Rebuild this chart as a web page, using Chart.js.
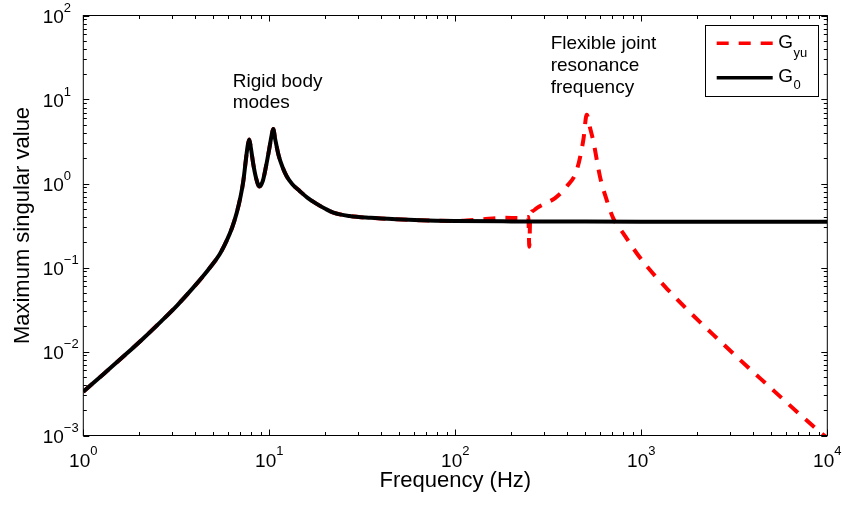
<!DOCTYPE html>
<html>
<head>
<meta charset="utf-8">
<script src="https://cdn.jsdelivr.net/npm/chart.js@4.4.1/dist/chart.umd.min.js"></script>
<style>
  html, body { margin: 0; padding: 0; background: #ffffff; }
  #wrap { width: 842px; height: 505px; position: relative; }
</style>
</head>
<body>
<div id="wrap"><canvas id="chart"></canvas></div>
<script>
(() => {
    'use strict';

    // shared low-frequency part (rigid body modes), both systems agree here
    const rigidFreq = [1, 1.3, 1.71, 2.1, 2.58, 3.2, 3.9, 4.4, 4.8, 5.4, 5.9, 6.3, 6.68, 7.0, 7.25, 7.5, 7.65, 7.8,
        7.95, 8.2, 8.5, 8.85, 9.2, 9.6, 10.0, 10.3, 10.5, 10.75, 11.2, 11.8, 12.4, 13.3, 14.6, 16, 17.8, 20, 22.1,
        27, 35, 48, 65, 100];
    const rigidMag = [0.00332, 0.00552, 0.00944, 0.0143, 0.0221, 0.0355, 0.0575, 0.0785, 0.1, 0.143, 0.209, 0.295,
        0.447, 0.692, 1.07, 2.0, 2.8, 3.35, 2.7, 1.7, 1.15, 0.92, 1.05, 1.6, 2.6, 3.8, 4.45, 3.4, 2.2, 1.55, 1.22,
        0.98, 0.81, 0.68, 0.58, 0.5, 0.45, 0.41, 0.39, 0.375, 0.365, 0.358];

    // G0 above 100 Hz
    const g0HighFreq = [200, 500, 1000, 3000, 10000];
    const g0HighMag = [0.354, 0.352, 0.351, 0.35, 0.35];

    // Gyu above 100 Hz: notch near 250 Hz, flexible joint resonance near 510 Hz
    const gyuHighFreq = [136, 181, 223, 247, 250, 253, 261, 274, 305, 344, 397, 450, 488, 509, 530, 552, 600, 651,
        707, 800, 945, 1114, 1370, 1683, 2069, 2543, 3123, 3841, 4724, 5799, 7129, 9139, 10000];
    const gyuHighMag = [0.372, 0.39, 0.388, 0.40, 0.177, 0.42, 0.47, 0.51, 0.58, 0.67, 0.92, 1.45, 3.3, 6.6, 4.6,
        3.2, 1.2, 0.64, 0.385, 0.255, 0.148, 0.0933, 0.0562, 0.0351, 0.0224, 0.0145, 0.00944, 0.00617, 0.00407,
        0.00269, 0.00178, 0.0011, 0.00093];

    const xDecades = [0, 1, 2, 3, 4];
    const yDecades = [-3, -2, -1, 0, 1, 2];

    const FONT = '"Liberation Sans", Arial, Helvetica, sans-serif';
    const RED = '#ff0000';
    const DASH = [12, 10];

    const toPoints = (xs, ys) => xs.map((x, i) => ({ x, y: ys[i] }));

    const g0Data = toPoints(rigidFreq.concat(g0HighFreq), rigidMag.concat(g0HighMag));
    const gyuData = toPoints(rigidFreq.concat(gyuHighFreq), rigidMag.concat(gyuHighMag));

    // "10" with a raised exponent; 'left' puts the base at x, 'center' centres the whole label on x
    const powLabel = (ctx, exp, x, baseline, align) => {
        const expText = exp < 0 ? '\u2212' + Math.abs(exp) : String(exp);
        ctx.font = '19px ' + FONT;
        const wBase = ctx.measureText('10').width;
        ctx.font = '13px ' + FONT;
        const wExp = ctx.measureText(expText).width;
        const left = align === 'left' ? x : x - (wBase + wExp) / 2;
        ctx.textAlign = 'left';
        ctx.textBaseline = 'alphabetic';
        ctx.font = '19px ' + FONT;
        ctx.fillText('10', left, baseline);
        ctx.font = '13px ' + FONT;
        ctx.fillText(expText, left + wBase, baseline - 11.7);
    };

    const frame = {
        id: 'matlabFrame',
        afterDraw(chart) {
            const ctx = chart.ctx;
            const area = chart.chartArea;
            const xs = chart.scales.x;
            const ys = chart.scales.y;

            ctx.save();
            ctx.strokeStyle = '#000000';
            ctx.fillStyle = '#000000';
            ctx.lineWidth = 1;

            // inward ticks on all four sides
            ctx.beginPath();
            xDecades.forEach((d) => {
                for (let m = 1; m <= 9; m++) {
                    const v = m * Math.pow(10, d);
                    if (v > 10000) break;
                    const px = Math.round(xs.getPixelForValue(v)) + 0.5;
                    const len = m === 1 ? 6 : 3.5;
                    ctx.moveTo(px, area.bottom);
                    ctx.lineTo(px, area.bottom - len);
                    ctx.moveTo(px, area.top);
                    ctx.lineTo(px, area.top + len);
                }
            });
            yDecades.forEach((d) => {
                for (let m = 1; m <= 9; m++) {
                    const v = m * Math.pow(10, d);
                    if (v > 100) break;
                    const py = Math.round(ys.getPixelForValue(v)) + 0.5;
                    const len = m === 1 ? 6 : 3.5;
                    ctx.moveTo(area.left, py);
                    ctx.lineTo(area.left + len, py);
                    ctx.moveTo(area.right, py);
                    ctx.lineTo(area.right - len, py);
                }
            });
            ctx.stroke();

            ctx.strokeRect(area.left, area.top, area.right - area.left, area.bottom - area.top);

            // tick labels
            xDecades.forEach((d) => {
                powLabel(ctx, d, xs.getPixelForValue(Math.pow(10, d)), 466.7, 'center');
            });
            yDecades.forEach((d) => {
                powLabel(ctx, d, 42.7, ys.getPixelForValue(Math.pow(10, d)) + 7.8, 'left');
            });

            // axis titles
            ctx.font = '22px ' + FONT;
            ctx.textAlign = 'center';
            ctx.textBaseline = 'alphabetic';
            ctx.fillText('Frequency (Hz)', (area.left + area.right) / 2, 486.7);
            ctx.save();
            ctx.translate(28.5, (area.top + area.bottom) / 2);
            ctx.rotate(-Math.PI / 2);
            ctx.fillText('Maximum singular value', 0, 0);
            ctx.restore();

            // annotations
            ctx.font = '19px ' + FONT;
            ctx.textAlign = 'left';
            ctx.fillText('Rigid body', 232.7, 86.7);
            ctx.fillText('modes', 232.7, 108.3);
            ctx.fillText('Flexible joint', 550.7, 49);
            ctx.fillText('resonance', 550.7, 71);
            ctx.fillText('frequency', 550.7, 93);

            // legend with subscripts
            ctx.fillStyle = '#ffffff';
            ctx.fillRect(705, 25.5, 113, 71);
            ctx.strokeStyle = '#000000';
            ctx.lineWidth = 1;
            ctx.strokeRect(705.5, 25.5, 113, 71);

            const sets = chart.data.datasets;
            const rows = [
                { ds: sets[0], y: 43.3, sub: 'yu', base: 48.3, subBase: 56.7 },
                { ds: sets[1], y: 77.7, sub: '0', base: 81.7, subBase: 89.3 },
            ];
            rows.forEach((row) => {
                ctx.save();
                ctx.strokeStyle = row.ds.borderColor;
                ctx.lineWidth = 3.5;
                ctx.setLineDash(row.ds.borderDash || []);
                ctx.lineCap = 'butt';
                ctx.beginPath();
                ctx.moveTo(716.7, row.y);
                ctx.lineTo(772.7, row.y);
                ctx.stroke();
                ctx.restore();

                ctx.fillStyle = '#000000';
                ctx.font = '19px ' + FONT;
                ctx.fillText('G', 778.3, row.base);
                const wG = ctx.measureText('G').width;
                ctx.font = '13px ' + FONT;
                ctx.fillText(row.sub, 778.3 + wG + 0.5, row.subBase);
            });

            ctx.restore();
        },
    };

    new Chart(document.getElementById('chart'), {
        type: 'scatter',
        data: {
            datasets: [
                {
                    label: 'Gyu',
                    data: gyuData,
                    showLine: true,
                    borderColor: RED,
                    borderWidth: 4,
                    borderDash: DASH,
                    pointRadius: 0,
                    cubicInterpolationMode: 'monotone',
                    order: 2,
                },
                {
                    label: 'G0',
                    data: g0Data,
                    showLine: true,
                    borderColor: '#000000',
                    borderWidth: 4,
                    pointRadius: 0,
                    cubicInterpolationMode: 'monotone',
                    order: 1,
                },
            ],
        },
        plugins: [frame],
        options: {
            responsive: true,
            maintainAspectRatio: false,
            animation: false,
            layout: {
                padding: { left: 83.3, top: 15.5, right: 14.7, bottom: 69.5 },
            },
            scales: {
                x: {
                    type: 'logarithmic',
                    min: 1,
                    max: 10000,
                    display: false,
                },
                y: {
                    type: 'logarithmic',
                    min: 0.001,
                    max: 100,
                    display: false,
                },
            },
            plugins: {
                legend: { display: false },
                tooltip: { enabled: false },
            },
        },
    });
})();
</script>
</body>
</html>
